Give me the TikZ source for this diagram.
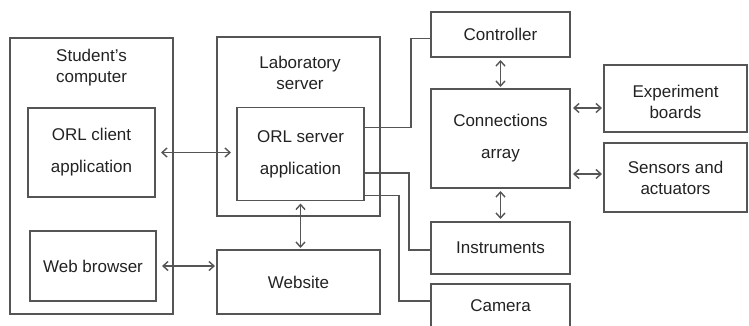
\documentclass[tikz,border=0pt]{standalone}
\usepackage{fontspec}
\setmainfont{Liberation Sans}
\usetikzlibrary{arrows.meta,calc}
\definecolor{edge}{HTML}{555555}
\definecolor{ink}{HTML}{222222}
\begin{document}
\begin{tikzpicture}[x=1pt,y=-1pt,
  box/.style={draw=edge,line width=1.4pt,rectangle,inner sep=0pt,outer sep=0pt,
    text=ink,align=center,font=\fontsize{17}{21}\selectfont},
  tall/.style={font=\fontsize{17}{32}\selectfont},
  lbl/.style={text=ink,align=center,font=\fontsize{17}{21}\selectfont,inner sep=0pt},
  wire/.style={draw=edge,line width=1.4pt},
  link/.style={wire,{Straight Barb[length=5pt,width=9pt]}-{Straight Barb[length=5pt,width=9pt]}}]
\useasboundingbox (0,0) rectangle (749,325);
\clip (0,0) rectangle (749,325);

% student side
\node[box,minimum width=163,minimum height=276] (stu) at (91.5,176) {};
\node[lbl] (stutxt) at (91.5,67.5) {Student's\\computer};
\node[box,tall,minimum width=127,minimum height=89] (client) at (91.5,152.5) {ORL client\\application};
\node[box,minimum width=126,minimum height=70] (browser) at (93,266) {Web browser};

% laboratory server
\node[box,minimum width=163,minimum height=179] (lab) at (298.5,126.5) {};
\node[lbl] (labtxt) at (300,72.5) {Laboratory\\server};
\node[box,tall,minimum width=127,minimum height=93] (srv) at (300.5,154) {ORL server\\application};
\node[box,minimum width=163,minimum height=64] (web) at (298.5,282) {Website};

% hardware column
\node[box,minimum width=139,minimum height=45] (ctrl) at (500.5,34.5) {Controller};
\node[box,tall,minimum width=139,minimum height=99] (conn) at (500.5,138.5) {Connections\\array};
\node[box,minimum width=139,minimum height=52] (inst) at (500.5,248) {Instruments};
\node[box,minimum width=139,minimum height=44] (cam) at (500.5,306) {Camera};

% devices on the right
\node[box,minimum width=143,minimum height=67] (exp) at (675.5,98.5) {};
\node[lbl] (exptxt) at (675.5,102) {Experiment\\boards};
\node[box,minimum width=143,minimum height=69] (sens) at (675.5,177.5) {Sensors and\\actuators};

% two-way links
\draw[link,shorten <=6pt,shorten >=6pt] (client.east) -- (client.east -| srv.west);
\draw[link,shorten <=6pt,shorten >=2pt] (browser.east) -- (browser.east -| web.west);
\draw[link,shorten <=3pt,shorten >=2pt] (srv.south) -- (srv.south |- web.north);
\draw[link,shorten <=3pt,shorten >=2pt] (ctrl.south) -- (conn.north);
\draw[link,shorten <=3pt,shorten >=3pt] (conn.south) -- (inst.north);
\draw[link,shorten <=3pt,shorten >=2pt] ([yshift=-9.5pt]exp.west -| conn.east) -- ([yshift=-9.5pt]exp.west);
\draw[link,shorten <=3pt,shorten >=2pt] ([yshift=3.5pt]sens.west -| conn.east) -- ([yshift=3.5pt]sens.west);

% server wiring to the hardware
\draw[wire] ([yshift=-20pt]srv.north east) -- ++(47,0) |- ([yshift=-4pt]ctrl.west);
\draw[wire] ([yshift=-19pt]srv.east) -- ++(45,0) |- ([yshift=-2pt]inst.west);
\draw[wire] ([yshift=5pt]srv.south east) -- ++(35,0) |- ([yshift=5pt]cam.west);
\end{tikzpicture}
\end{document}
